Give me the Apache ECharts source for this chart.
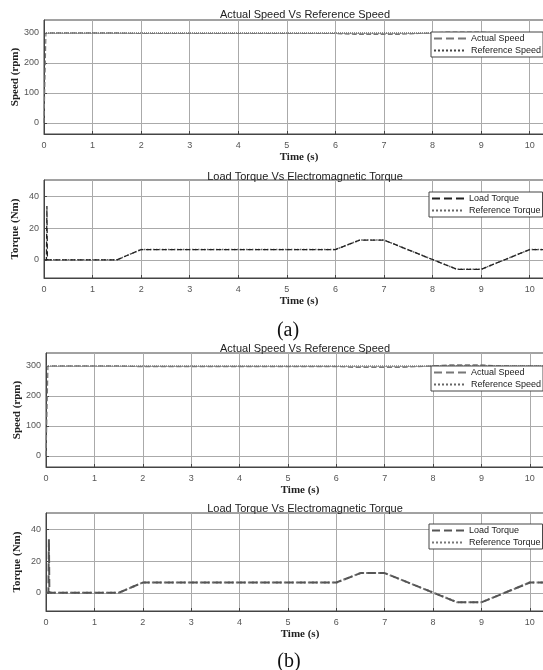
<!DOCTYPE html>
<html>
<head>
<meta charset="utf-8">
<script src="https://cdn.jsdelivr.net/npm/echarts@6/dist/echarts.min.js"></script>
<style>
  html, body { margin: 0; padding: 0; background: #fff; }
  #chart { width: 543px; height: 670px; }
</style>
</head>
<body>
<div id="chart"></div>
<script>
// time ticks and value ticks
const timeTicks = [0, 1, 2, 3, 4, 5, 6, 7, 8, 9, 10];
const speedTicks = [0, 100, 200, 300];
const torqueTicks = [0, 20, 40];

// speed (rpm) vs time (s)
const speedRef = [[0, 300], [10.5, 300]];
const speedActA = [[0, 0], [0.04, 300], [1.5, 300], [1.9, 298], [6.0, 298], [6.4, 295], [7.3, 295],
    [7.7, 298], [8.0, 300], [8.3, 303], [9.0, 303], [9.3, 300], [10.0, 299], [10.5, 298]];
const speedActB = [[0, 0], [0.04, 300], [1.5, 300], [1.9, 298], [6.0, 298], [6.4, 295], [7.3, 295],
    [7.7, 298], [8.0, 300], [8.3, 303], [9.0, 303], [9.3, 300], [10.0, 299], [10.5, 298]];

// torque (Nm) vs time (s)
const torqueRef = [[0, 0], [1.5, 0], [2, 6.5], [6, 6.5], [6.5, 12.5], [7, 12.5], [8.5, -6], [9, -6], [10, 6.5], [10.5, 6.5]];
const torqueActA = [[0, 0], [0.05, 0], [0.06, 34], [0.07, 0], [1.5, 0], [2, 6.5], [6, 6.5], [6.5, 12.5], [7, 12.5],
    [8.5, -6], [9, -6], [10, 6.5], [10.5, 6.5]];
const torqueActB = [[0, 0], [0.05, 0], [0.06, 34], [0.07, 0], [1.5, 0], [2, 6.5], [6, 6.5], [6.5, 12.5], [7, 12.5],
    [8.5, -6], [9, -6], [10, 6.5], [10.5, 6.5]];

const grids = [
    { left: 44, right: -11, top: 20, height: 114 },
    { left: 44, right: -11, top: 180, height: 98 },
    { left: 46, right: -11, top: 353, height: 114 },
    { left: 46, right: -11, top: 513, height: 98 }
];

const sansFont = '"Liberation Sans", Arial, sans-serif';
const serifFont = '"Liberation Serif", "Times New Roman", serif';

function xAxisFor(i) {
    return {
        type: 'value', gridIndex: i, min: 0, max: 10.5, interval: 1,
        name: 'Time (s)', nameLocation: 'middle', nameGap: 18, nameMoveOverlap: false,
        nameTextStyle: { fontFamily: serifFont, fontWeight: 'bold', fontSize: 11, color: '#222' },
        axisLine: { show: true, onZero: false, lineStyle: { color: '#444', width: 1 } },
        axisTick: { show: true, inside: true, length: 3, lineStyle: { color: '#444' } },
        axisLabel: { fontFamily: sansFont, fontSize: 9, color: '#555', margin: 7, showMaxLabel: false },
        splitLine: { show: true, lineStyle: { color: '#aaa', width: 1 } }
    };
}

function yAxisFor(i, name, min, max, ticks) {
    return {
        type: 'value', gridIndex: i, min: min, max: max,
        name: name, nameLocation: 'middle', nameGap: 23, nameMoveOverlap: false,
        nameTextStyle: { fontFamily: serifFont, fontWeight: 'bold', fontSize: 11, color: '#222' },
        axisLine: { show: true, lineStyle: { color: '#444', width: 1 } },
        axisTick: { show: true, inside: true, length: 3, customValues: ticks, lineStyle: { color: '#444' } },
        axisLabel: { fontFamily: sansFont, fontSize: 9, color: '#555', margin: 5, customValues: ticks },
        splitLine: { show: true, lineStyle: { color: '#aaa', width: 1 } }
    };
}

function lineSeries(name, i, data, color, type, width) {
    return {
        name: name, type: 'line', xAxisIndex: i, yAxisIndex: i, data: data,
        symbol: 'none', silent: true, animation: false,
        lineStyle: { color: color, type: type, width: width },
        itemStyle: { color: color }
    };
}

// strip the "#a"/"#b" suffix used to keep legend names apart
const legendName = n => n.split('#')[0];

function legendFor(names, left, top) {
    return {
        data: names, orient: 'vertical', left: left, top: top,
        itemWidth: 32, itemHeight: 8, itemGap: 3,
        padding: [2, 2, 2, 2],
        borderColor: '#444', borderWidth: 1, backgroundColor: '#fff',
        itemStyle: { opacity: 0 },
        formatter: legendName,
        textStyle: { fontFamily: sansFont, fontSize: 9, color: '#222' }
    };
}

function titleFor(text, top) {
    return {
        text: text, left: 300, top: top, textAlign: 'center',
        textStyle: { fontFamily: sansFont, fontSize: 11, fontWeight: 'normal', color: '#222' }
    };
}

const option = {
    backgroundColor: '#fff',
    animation: false,
    title: [
        titleFor('Actual Speed Vs Reference Speed', 4),
        titleFor('Load Torque Vs Electromagnetic Torque', 166),
        titleFor('Actual Speed Vs Reference Speed', 338),
        titleFor('Load Torque Vs Electromagnetic Torque', 498),
        { text: '(a)', left: 283, top: 316, textAlign: 'center',
          textStyle: { fontFamily: serifFont, fontSize: 20, fontWeight: 'normal', color: '#111' } },
        { text: '(b)', left: 284, top: 647, textAlign: 'center',
          textStyle: { fontFamily: serifFont, fontSize: 20, fontWeight: 'normal', color: '#111' } }
    ],
    grid: grids.map(g => Object.assign({
        show: true, borderColor: '#444', borderWidth: 1, backgroundColor: 'transparent',
        containLabel: false, outerBoundsMode: 'none'
    }, g)),
    xAxis: [0, 1, 2, 3].map(xAxisFor),
    yAxis: [
        yAxisFor(0, 'Speed (rpm)', -37, 343, speedTicks),
        yAxisFor(1, 'Torque (Nm)', -11.5, 50.5, torqueTicks),
        yAxisFor(2, 'Speed (rpm)', -37, 343, speedTicks),
        yAxisFor(3, 'Torque (Nm)', -11.5, 50.5, torqueTicks)
    ],
    legend: [
        legendFor(['Actual Speed#a', 'Reference Speed#a'], 431, 32),
        legendFor(['Load Torque#a', 'Reference Torque#a'], 429, 192),
        legendFor(['Actual Speed#b', 'Reference Speed#b'], 431, 366),
        legendFor(['Load Torque#b', 'Reference Torque#b'], 429, 524)
    ],
    series: [
        lineSeries('Reference Speed#a', 0, speedRef, '#444', 'dotted', 1),
        lineSeries('Actual Speed#a', 0, speedActA, '#777', 'dashed', 1.2),
        lineSeries('Reference Torque#a', 1, torqueRef, '#666', 'dotted', 1.5),
        lineSeries('Load Torque#a', 1, torqueActA, '#222', 'dashed', 1.3),
        lineSeries('Reference Speed#b', 2, speedRef, '#666', 'dotted', 1),
        lineSeries('Actual Speed#b', 2, speedActB, '#777', 'dashed', 1.3),
        lineSeries('Reference Torque#b', 3, torqueRef, '#777', 'dotted', 2),
        lineSeries('Load Torque#b', 3, torqueActB, '#555', 'dashed', 2)
    ]
};

const chart = echarts.init(document.getElementById('chart'), null, { renderer: 'canvas' });
chart.setOption(option);
</script>
</body>
</html>
